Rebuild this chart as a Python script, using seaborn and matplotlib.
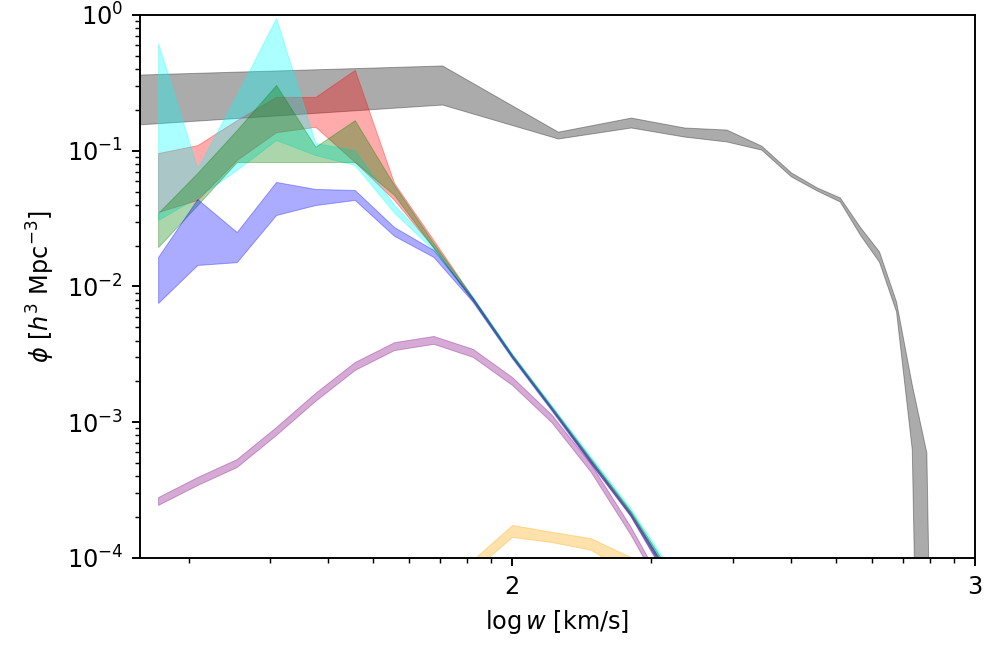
import numpy as np
import pandas as pd
import matplotlib
matplotlib.use("Agg")
import matplotlib.pyplot as plt
import seaborn as sns

# ---------------- data ----------------
# log-spaced velocity grid (km/s) used by the coloured samples
w_grid = [17.18, 20.89, 25.41, 30.90, 37.58, 45.71, 55.59, 67.61,
          82.22, 100.0, 121.6, 147.9, 179.9, 218.8]
# linear velocity grid (km/s) used by the full sample (grey)
w_all = [15.7, 70.8, 125.9, 181.0, 236.1, 291.2, 346.3, 401.4,
         456.5, 511.6, 566.7, 621.8, 676.9, 732.0, 787.1, 842.2]

all_lo = [0.155, 0.217, 0.122, 0.147, 0.126, 0.116, 0.101, 0.0641,
          0.0505, 0.0419, 0.0236, 0.0151, 0.00649, 6.25e-4, 1e-9, 1e-9]
all_hi = [0.361, 0.421, 0.137, 0.174, 0.147, 0.142, 0.108, 0.0686,
          0.0532, 0.0449, 0.0270, 0.0180, 0.00769, 0.00188, 5.93e-4, 1e-9]

red_lo = [0.0354, 0.0434, 0.0855, 0.137, 0.150, 0.0826, 0.0434, 0.0193,
          0.0078, 3.0e-3, 1.24e-3, 5.0e-4, 2.05e-4, 6.8e-5]
red_hi = [0.0962, 0.110, 0.168, 0.249, 0.249, 0.394, 0.0578, 0.0220,
          0.0083, 3.15e-3, 1.30e-3, 5.3e-4, 2.2e-4, 7.5e-5]

cyan_lo = [0.0309, 0.0456, 0.0722, 0.120, 0.093, 0.0785, 0.035, 0.0186,
           0.0079, 3.0e-3, 1.26e-3, 5.2e-4, 2.15e-4, 7.5e-5]
cyan_hi = [0.622, 0.0746, 0.257, 0.95, 0.114, 0.101, 0.040, 0.0200,
           0.0084, 3.2e-3, 1.34e-3, 5.6e-4, 2.35e-4, 8.5e-5]

green_lo = [0.0195, 0.0398, 0.0826, 0.0826, 0.0826, 0.0826, 0.0472, 0.0193,
            0.0079, 3.0e-3, 1.25e-3, 5.1e-4, 2.1e-4, 7.0e-5]
green_hi = [0.0348, 0.0686, 0.142, 0.305, 0.107, 0.168, 0.0559, 0.0209,
            0.0083, 3.15e-3, 1.31e-3, 5.4e-4, 2.25e-4, 8.0e-5]

blue_lo = [0.00756, 0.0144, 0.0151, 0.0336, 0.0398, 0.0434, 0.0236, 0.0165,
           0.0077, 2.95e-3, 1.22e-3, 4.95e-4, 2.05e-4, 6.5e-5]
blue_hi = [0.0165, 0.0441, 0.0252, 0.0589, 0.0523, 0.0514, 0.0274, 0.0186,
           0.0082, 3.1e-3, 1.28e-3, 5.2e-4, 2.15e-4, 7.5e-5]

purple_lo = [2.46e-4, 3.45e-4, 4.68e-4, 8.07e-4, 1.44e-3, 2.43e-3, 3.40e-3,
             3.78e-3, 3.03e-3, 1.88e-3, 1.00e-3, 4.30e-4, 1.50e-4, 4.6e-5]
purple_hi = [2.81e-4, 3.95e-4, 5.36e-4, 9.23e-4, 1.65e-3, 2.78e-3, 3.89e-3,
             4.32e-3, 3.47e-3, 2.15e-3, 1.14e-3, 4.92e-4, 1.72e-4, 5.2e-5]

orange_lo = [1e-6, 1e-6, 1e-6, 1e-6, 1e-6, 1e-6, 1e-6, 3.0e-5,
             8.0e-5, 1.43e-4, 1.31e-4, 1.15e-4, 7.5e-5, 3.0e-5]
orange_hi = [1e-6, 1e-6, 1e-6, 1e-6, 1e-6, 1e-6, 1e-6, 4.0e-5,
             9.7e-5, 1.75e-4, 1.56e-4, 1.40e-4, 1.02e-4, 4.0e-5]

series_names = ["all", "red", "cyan", "green", "blue", "purple", "orange"]
series_colors = ["black", "red", "cyan", "green", "blue", "purple", "orange"]

xtick_values = [100, 1000]
xtick_labels = ["2", "3"]
x_label = r"$\log w$ [km/s]"
y_label = r"$\phi$ [$h^3$ Mpc$^{-3}$]"

# ---------------- long-form table ----------------
bands = {
    "all": (w_all, all_lo, all_hi),
    "red": (w_grid, red_lo, red_hi),
    "cyan": (w_grid, cyan_lo, cyan_hi),
    "green": (w_grid, green_lo, green_hi),
    "blue": (w_grid, blue_lo, blue_hi),
    "purple": (w_grid, purple_lo, purple_hi),
    "orange": (w_grid, orange_lo, orange_hi),
}
rows = []
for name in series_names:
    xs, lo, hi = bands[name]
    for x, l, h in zip(xs, lo, hi):
        rows.append((name, x, l))
        rows.append((name, x, h))
df = pd.DataFrame(rows, columns=["series", "w", "phi"])

# ---------------- style ----------------
sns.set_theme(style="ticks", rc={
    "axes.edgecolor": "black", "axes.labelcolor": "black", "text.color": "black",
    "xtick.color": "black", "ytick.color": "black",
    "axes.linewidth": 0.8,
    "xtick.major.size": 3.5, "ytick.major.size": 3.5,
    "xtick.minor.size": 2.0, "ytick.minor.size": 2.0,
    "xtick.major.width": 0.8, "ytick.major.width": 0.8,
    "xtick.minor.width": 0.6, "ytick.minor.width": 0.6,
    "font.size": 10, "axes.labelsize": 10,
    "xtick.labelsize": 10, "ytick.labelsize": 10,
})
plt.rcParams["font.family"] = ["DejaVu Sans"]

fig = plt.figure(figsize=(5.712, 3.75), dpi=172.8)
ax = fig.add_axes([0.1418, 0.1389, 0.9878 - 0.1418, 0.9769 - 0.1389])
ax.set_xscale("log")
ax.set_yscale("log")

sns.lineplot(data=df, x="w", y="phi", hue="series", hue_order=series_names,
             palette=dict(zip(series_names, series_colors)),
             estimator="mean", errorbar=("pi", 100), linewidth=0,
             err_kws={"alpha": 0.33, "linewidth": 0.4},
             legend=False, ax=ax)

ax.set_xlim(15.7, 1000)
ax.set_ylim(1e-4, 1)
ax.set_xticks(xtick_values)
ax.set_xticklabels(xtick_labels)
ax.set_xlabel(x_label)
ax.set_ylabel(y_label)

fig.savefig("out.png", dpi=172.8)
